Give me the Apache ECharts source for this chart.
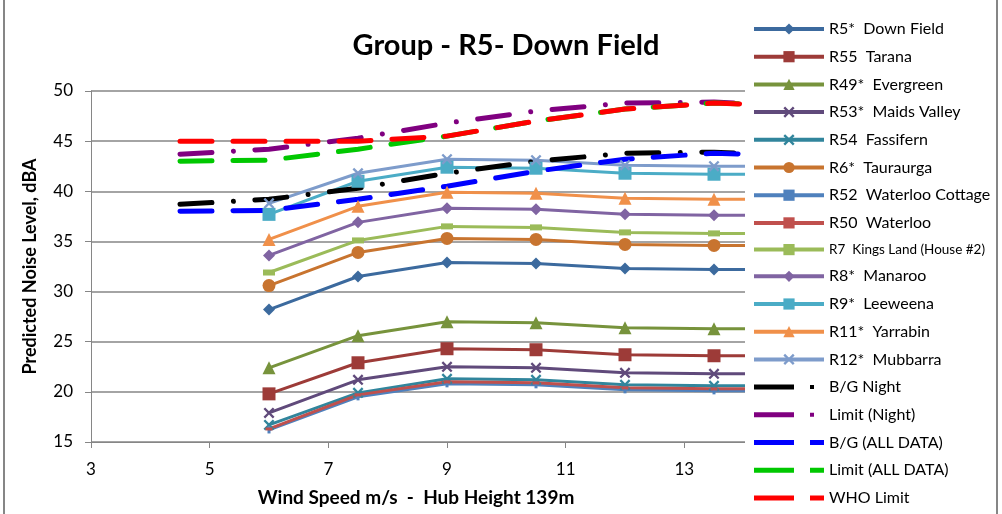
<!DOCTYPE html>
<html>
<head>
<meta charset="utf-8">
<script src="https://cdn.jsdelivr.net/npm/echarts@6/dist/echarts.min.js"></script>
<style>
  html, body { margin: 0; padding: 0; background: #fff; }
  #chart { width: 1002px; height: 514px; }
</style>
</head>
<body>
<div id="chart"></div>
<script>
// wind speeds (m/s) for the receivers and for the background / limit curves
var windSpeeds = [6, 7.5, 9, 10.5, 12, 13.5, 15]
var bgSpeeds = [4.5, 6, 7.5, 9, 10.5, 12, 13.5, 15]

// predicted noise levels, dBA
var r5 = [28.2, 31.5, 32.9, 32.8, 32.3, 32.2, 32.2]
var r55 = [19.8, 22.9, 24.3, 24.2, 23.7, 23.6, 23.6]
var r49 = [22.4, 25.6, 27.0, 26.9, 26.4, 26.3, 26.3]
var r53 = [17.9, 21.2, 22.5, 22.4, 21.9, 21.8, 21.8]
var r54 = [16.7, 19.9, 21.3, 21.2, 20.7, 20.6, 20.6]
var r6 = [30.6, 33.9, 35.3, 35.2, 34.7, 34.6, 34.6]
var r52 = [16.2, 19.5, 20.8, 20.7, 20.2, 20.1, 20.1]
var r50 = [16.3, 19.7, 21.0, 20.9, 20.4, 20.3, 20.3]
var r7 = [31.9, 35.1, 36.5, 36.4, 35.9, 35.8, 35.8]
var r8 = [33.6, 36.9, 38.3, 38.2, 37.7, 37.6, 37.6]
var r9 = [37.7, 41.0, 42.4, 42.3, 41.8, 41.7, 41.7]
var r11 = [35.2, 38.5, 39.9, 39.8, 39.3, 39.2, 39.2]
var r12 = [38.8, 41.8, 43.2, 43.1, 42.6, 42.5, 42.5]

// background and limit curves
var bgNight = [38.7, 39.2, 40.3, 41.8, 43.0, 43.8, 43.9, 43.5]
var limitNight = [43.7, 44.2, 45.3, 46.8, 48.0, 48.8, 48.9, 48.5]
var bgAll = [38.0, 38.1, 39.2, 40.5, 42.0, 43.2, 43.8, 43.5]
var limitAll = [43.0, 43.1, 44.2, 45.5, 47.0, 48.2, 48.8, 48.5]
var whoLimit = [45, 45, 45, 45.5, 47.0, 48.2, 48.8, 48.5]

var FONT = 'Lato'
var xMark = 'path://M0,1.5 L1.5,0 L5,3.5 L8.5,0 L10,1.5 L6.5,5 L10,8.5 L8.5,10 L5,6.5 L1.5,10 L0,8.5 L3.5,5 Z'
// legend icons for the dashed curves (70 x 14 box)
var iconDashDot = 'path://M0,0 L0,0 M70,14 L70,14 M0,4.5 L40,4.5 L40,9.5 L0,9.5 Z M56,5 L60,5 L60,9 L56,9 Z'
var iconDash = 'path://M0,0 L0,0 M70,14 L70,14 M0,4.5 L40,4.5 L40,9.5 L0,9.5 Z M56,4.5 L70,4.5 L70,9.5 L56,9.5 Z'

function pairs(xs, ys) {
  var out = []
  for (var i = 0; i < ys.length; i++) {
    out.push([xs[i], ys[i]])
  }
  return out
}

function receiver(name, values, color, symbol, size) {
  return {
    name: name,
    type: 'line',
    data: pairs(windSpeeds, values),
    color: color,
    symbol: symbol,
    symbolSize: size,
    showSymbol: true,
    lineStyle: { width: 3, color: color },
    itemStyle: { color: color },
    emphasis: { disabled: true }
  }
}

function curve(name, values, color, dash) {
  return {
    name: name,
    type: 'line',
    data: pairs(bgSpeeds, values),
    color: color,
    symbol: 'none',
    lineStyle: { width: 5, color: color, type: dash, cap: 'round' },
    itemStyle: { color: color },
    emphasis: { disabled: true }
  }
}

var dashDot = [32, 21.5, 0.01, 21.5]
var longDash = [32, 21]

var series = [
  receiver('R5*  Down Field', r5, '#3C6A9E', 'diamond', 12),
  receiver('R55  Tarana', r55, '#9D3B38', 'rect', 13),
  receiver('R49*  Evergreen', r49, '#77933C', 'triangle', 13),
  receiver('R53*  Maids Valley', r53, '#604A7B', xMark, 11),
  receiver('R54  Fassifern', r54, '#31859C', xMark, 11),
  receiver('R6*  Tauraurga', r6, '#C8742F', 'circle', 13),
  receiver('R52  Waterloo Cottage', r52, '#4F81BD', 'rect', [3, 7]),
  receiver('R50  Waterloo', r50, '#C0504D', 'rect', [7, 3]),
  receiver('R7  Kings Land (House #2)', r7, '#9BBB59', 'rect', [12, 6]),
  receiver('R8*  Manaroo', r8, '#8064A2', 'diamond', 12),
  receiver('R9*  Leeweena', r9, '#4BACC6', 'rect', 13),
  receiver('R11*  Yarrabin', r11, '#F0904A', 'triangle', 13),
  receiver('R12*  Mubbarra', r12, '#7E9CCB', xMark, 11),
  curve('B/G Night', bgNight, '#000000', dashDot),
  curve('Limit (Night)', limitNight, '#800080', dashDot),
  curve('B/G (ALL DATA)', bgAll, '#0000FF', longDash),
  curve('Limit (ALL DATA)', limitAll, '#00C800', longDash),
  curve('WHO Limit', whoLimit, '#FF0000', longDash)
]

var legendData = series.map(function (s) {
  var item = { name: s.name }
  if (s.name.indexOf('Kings Land') >= 0) {
    item.textStyle = { fontSize: 13.5 }
  }
  if (s.symbol === 'none') {
    item.icon = s.lineStyle.type === dashDot ? iconDashDot : iconDash
  }
  return item
})

var myChart = echarts.init(document.getElementById('chart'))
var option = {
  animation: false,
  backgroundColor: '#fff',
  textStyle: { fontFamily: FONT },
  title: {
    text: 'Group - R5- Down Field',
    left: 501,
    textAlign: 'center',
    top: 26,
    textStyle: { fontFamily: FONT, fontSize: 29, fontWeight: 'bold', color: '#000' }
  },
  grid: { left: 91, top: 91, width: 712, height: 351 },
  xAxis: {
    type: 'value',
    min: 3,
    max: 15,
    interval: 2,
    axisLine: { show: true, lineStyle: { color: '#868686', width: 1 } },
    axisTick: { show: true, length: 6, lineStyle: { color: '#868686' } },
    splitLine: { show: false },
    axisLabel: { fontFamily: FONT, fontSize: 17, color: '#000', margin: 19 }
  },
  yAxis: {
    type: 'value',
    min: 15,
    max: 50,
    interval: 5,
    name: 'Predicted Noise Level, dBA',
    nameLocation: 'middle',
    nameGap: 52,
    nameTextStyle: { fontFamily: FONT, fontSize: 18, fontWeight: 'bold', color: '#000' },
    axisLine: { show: true, lineStyle: { color: '#868686', width: 1 } },
    axisTick: { show: true, length: 6, lineStyle: { color: '#868686' } },
    splitLine: { show: true, lineStyle: { color: '#868686', width: 1.5 } },
    axisLabel: { fontFamily: FONT, fontSize: 17, color: '#000', margin: 18 }
  },
  legend: {
    orient: 'vertical',
    left: 752,
    top: 21,
    height: 500,
    padding: 0,
    z: 20,
    itemWidth: 70,
    itemHeight: 14,
    itemGap: 11.7,
    data: legendData,
    lineStyle: { width: 4 },
    textStyle: { fontFamily: FONT, fontSize: 16, color: '#000' },
    selectedMode: false
  },
  graphic: [
    {
      type: 'rect',
      z: 10,
      shape: { x: 745, y: 0, width: 257, height: 514 },
      style: { fill: '#fff' }
    },
    {
      type: 'line',
      z: 21,
      shape: { x1: 4, y1: 0, x2: 4, y2: 514 },
      style: { stroke: '#868686', lineWidth: 2 }
    },
    {
      type: 'line',
      z: 21,
      shape: { x1: 997, y1: 0, x2: 997, y2: 514 },
      style: { stroke: '#868686', lineWidth: 2 }
    },
    {
      type: 'text',
      z: 21,
      x: 416,
      y: 498,
      style: {
        text: 'Wind Speed m/s  -  Hub Height 139m',
        fontFamily: FONT,
        fontSize: 19,
        fontWeight: 'bold',
        fill: '#000',
        align: 'center',
        verticalAlign: 'middle'
      }
    }
  ],
  series: series
}
myChart.setOption(option)
</script>
</body>
</html>
